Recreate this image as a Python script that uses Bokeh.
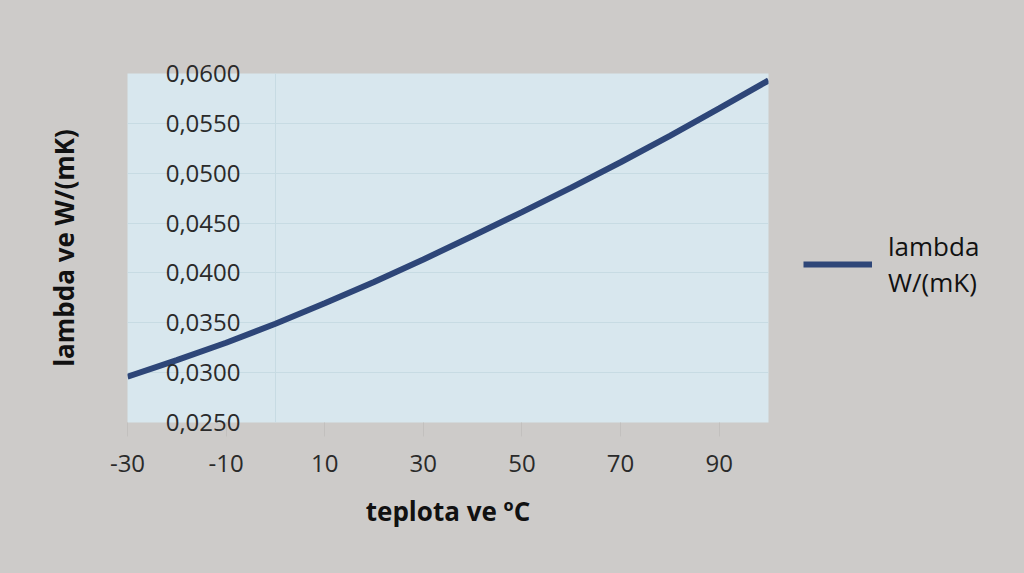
from bokeh.plotting import figure
from bokeh.models import (ColumnDataSource, FixedTicker, CustomJSTickFormatter, Range1d,
                          Legend, LegendItem, GlobalInlineStyleSheet)
from bokeh.embed import file_html
from bokeh.resources import INLINE

# ---- data ----
temperature = [-30, -20, -10, 0, 10, 20, 30, 40, 50, 60, 70, 80, 90, 100]
lambda_vals = [0.0296, 0.03125, 0.0330, 0.0349, 0.03695, 0.0391, 0.04135, 0.0437,
               0.0461, 0.04855, 0.0511, 0.05375, 0.0565, 0.0593]
x_ticks = [-30, -10, 10, 30, 50, 70, 90]
y_ticks = [0.025, 0.030, 0.035, 0.040, 0.045, 0.050, 0.055, 0.060]
series_label = "lambda\nW/(mK)"
x_title = "teplota ve ºC"
y_title = "lambda ve W/(mK)"

BG = "#cdcbc9"
PLOT_BG = "#d8e7ee"
LINE = "#2e4678"
FONT = "Open Sans"

source = ColumnDataSource(data=dict(t=temperature, lam=lambda_vals))

p = figure(frame_width=641, frame_height=349, output_backend="svg", toolbar_location=None,
           x_range=Range1d(-30, 100), y_range=Range1d(0.025, 0.060),
           min_border_left=127, min_border_right=240, min_border_top=73,
           min_border_bottom=135)
p.stylesheets = [GlobalInlineStyleSheet(css="body{background:%s;}" % BG)]
p.background_fill_color = PLOT_BG
p.border_fill_color = BG
p.outline_line_color = None

r = p.line("t", "lam", source=source, line_color=LINE, line_width=6)

# x axis
xa = p.xaxis[0]
xa.ticker = FixedTicker(ticks=x_ticks)
xa.formatter = CustomJSTickFormatter(code="return tick.toString();")
xa.axis_line_color = None
xa.major_tick_in = 0
xa.major_tick_out = 14
xa.major_tick_line_color = "#c2c0be"
xa.minor_tick_line_color = None
xa.major_label_standoff = 18
xa.major_label_text_font = FONT
xa.major_label_text_font_size = "24px"
xa.major_label_text_color = "#2a2a2a"
xa.axis_label = x_title
xa.axis_label_text_font = FONT
xa.axis_label_text_font_style = "bold"
xa.axis_label_text_font_size = "26px"
xa.axis_label_text_color = "#111111"
xa.axis_label_standoff = 18

# y axis
ya = p.yaxis[0]
ya.ticker = FixedTicker(ticks=y_ticks)
ya.formatter = CustomJSTickFormatter(code="return tick.toFixed(4).replace('.', ',');")
ya.axis_line_color = None
ya.major_tick_line_color = None
ya.minor_tick_line_color = None
ya.major_tick_in = 0
ya.major_tick_out = 0
ya.major_label_standoff = -113
ya.major_label_text_font = FONT
ya.major_label_text_font_size = "24px"
ya.major_label_text_color = "#2a2a2a"
ya.axis_label = y_title
ya.axis_label_text_font = FONT
ya.axis_label_text_font_style = "bold"
ya.axis_label_text_font_size = "26px"
ya.axis_label_text_color = "#111111"
ya.axis_label_standoff = 81

# grids
p.ygrid.ticker = FixedTicker(ticks=y_ticks)
p.ygrid.grid_line_color = "#c7dbe3"
p.xgrid.ticker = FixedTicker(ticks=[0])
p.xgrid.grid_line_color = "#c7dbe3"

legend = Legend(items=[LegendItem(label=series_label, renderers=[r])],
                location=(35, 122), orientation="vertical",
                glyph_width=69, glyph_height=50, label_standoff=16,
                label_text_font=FONT, label_text_font_size="26px",
                label_text_color="#111111", label_text_line_height=1.25,
                background_fill_alpha=0, border_line_color=None,
                padding=0, margin=0)
p.add_layout(legend, "right")

open("out.html", "w").write(file_html(p, INLINE))
